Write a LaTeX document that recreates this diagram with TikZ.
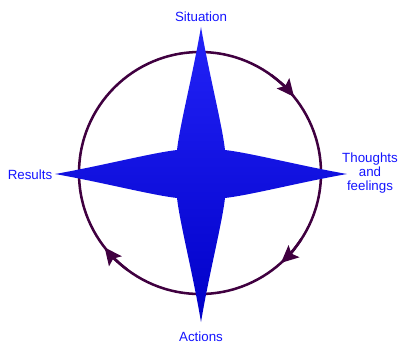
\documentclass[tikz,border=0pt]{standalone}
\usepackage{fontspec}
\setmainfont{Liberation Sans}
\usetikzlibrary{arrows.meta}
\definecolor{ringcol}{RGB}{64,0,64}
\definecolor{labelcol}{RGB}{20,20,255}
\definecolor{starlight}{RGB}{35,35,248}
\definecolor{stardark}{RGB}{0,0,200}
\begin{document}
\begin{tikzpicture}[x=0.75pt,y=0.75pt,
        ring/.style={draw=ringcol,line width=1.9pt},
        ringarrow/.style={ring,-{Stealth[length=13pt,width=12pt,inset=2.5pt]}},
        lbl/.style={text=labelcol,font=\fontsize{10}{10.5}\selectfont,align=center,inner sep=0pt}]
        \useasboundingbox (0,0) rectangle (399,344);
        % ring with the three arrows (clockwise)
        \draw[ring] (200,171) circle (121);
        \draw[ringarrow] (200,171) ++(54:121) arc (54:39:121);
        \draw[ringarrow] (200,171) ++(-33:121) arc (-33:-48:121);
        \draw[ringarrow] (200,171) ++(233:121) arc (233:218:121);
        % the star
        \begin{scope}[shift={(201,170)}]
            \shade[shading angle=45,top color=starlight,bottom color=stardark]
                (-24,24) .. controls (-21,50) and (-8,100) .. (0,147)
                .. controls (8,100) and (21,50) .. (24,24)
                .. controls (50,21) and (100,8) .. (146,0)
                .. controls (100,-8) and (50,-21) .. (24,-24)
                .. controls (21,-50) and (8,-100) .. (0,-148)
                .. controls (-8,-100) and (-21,-50) .. (-24,-24)
                .. controls (-50,-21) and (-100,-8) .. (-146,0)
                .. controls (-100,8) and (-50,21) .. (-24,24) -- cycle;
        \end{scope}
        % labels
        \node[lbl] (situation) at (201,327) {Situation};
        \node[lbl] (results) at (30,169) {Results};
        \node[lbl] (thoughts) at (370,171) {Thoughts\\and\\feelings};
        \node[lbl] (actions) at (201,7) {Actions};
    \end{tikzpicture}
\end{document}
